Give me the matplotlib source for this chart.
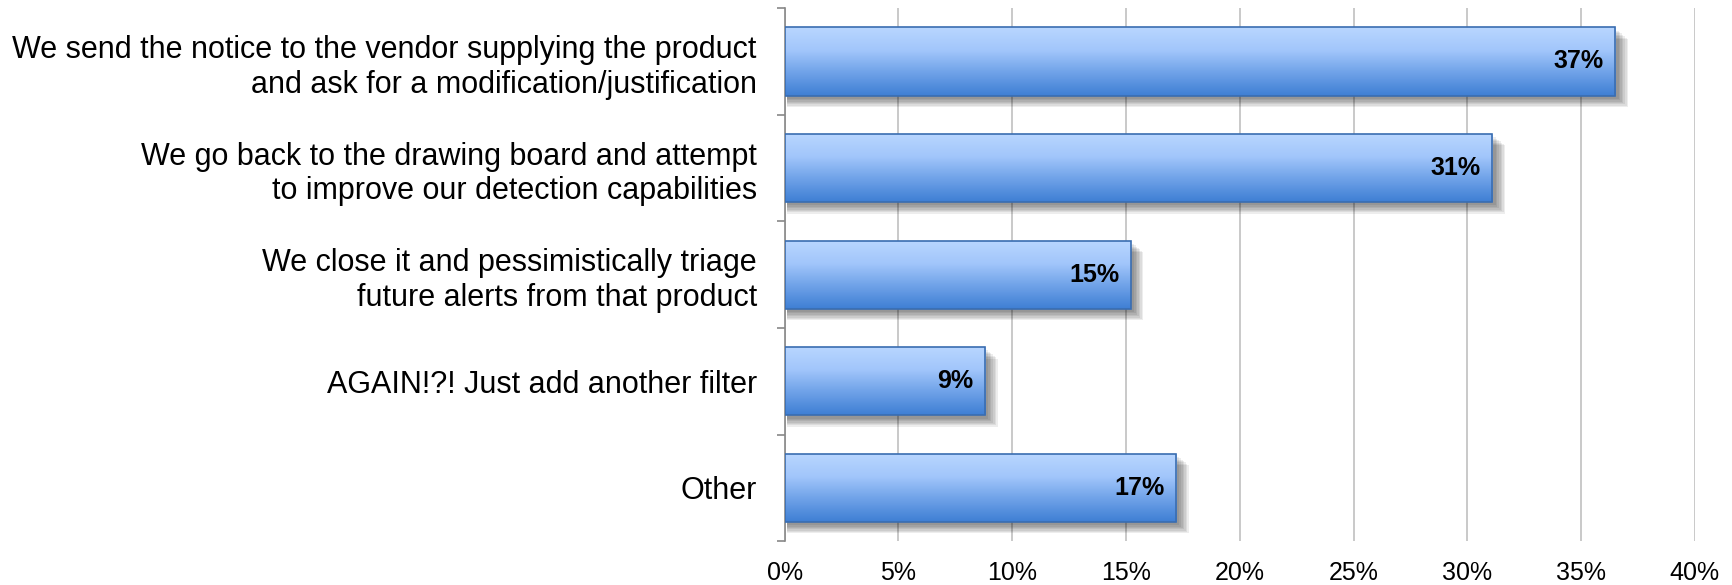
import numpy as np
import matplotlib.pyplot as plt
from matplotlib.colors import LinearSegmentedColormap
from matplotlib.patches import Rectangle

categories = ["We send the notice to the vendor supplying the product\nand ask for a modification/justification",
              "We go back to the drawing board and attempt\nto improve our detection capabilities",
              "We close it and pessimistically triage\nfuture alerts from that product",
              "AGAIN!?! Just add another filter",
              "Other"]
values = [36.5, 31.1, 15.2, 8.8, 17.2]
labels = ["37%", "31%", "15%", "9%", "17%"]
xticks = [0, 5, 10, 15, 20, 25, 30, 35, 40]

plt.rcParams['font.family'] = ['Liberation Sans', 'DejaVu Sans']

fig = plt.figure(figsize=(17.32, 5.85), dpi=100)
ax = fig.add_axes([0.453, 0.075, 0.5256, 0.911])

n = len(categories)
ypos = np.arange(n)[::-1]
h = 0.64
cmap = LinearSegmentedColormap.from_list("g", ["#3f7fd4", "#6fa2e8", "#a2c6fb", "#b8d6ff"])
grad = np.linspace(0, 1, 64).reshape(-1, 1)

ax.set_xlim(0, 40)
ax.set_ylim(-0.5, n - 0.5)

for y, v, lab in zip(ypos, values, labels):
    # soft shadow
    for k in range(7):
        off = 0.03 + k * 0.013
        ax.add_patch(Rectangle((0.1, y - h / 2 - off), v + 0.05 + k * 0.07, h,
                               facecolor="black", alpha=0.07, edgecolor="none", zorder=2))
    bar = ax.barh(y, v, height=h, color="none", edgecolor="#3a6db0", linewidth=1.2, zorder=4)[0]
    im = ax.imshow(grad, cmap=cmap, aspect="auto", origin="lower",
                   extent=[0, v, y - h / 2, y + h / 2], zorder=3)
    im.set_clip_path(bar)
    ax.text(v - 0.5, y, lab, ha="right", va="center", fontsize=18, fontweight="bold",
            color="black", zorder=5)

ax.set_xlim(0, 40)
ax.set_ylim(-0.5, n - 0.5)
ax.set_xticks(xticks)
ax.set_xticklabels([f"{t}%" for t in xticks], fontsize=18)
ax.set_yticks(ypos)
ax.set_yticklabels(categories, fontsize=22, linespacing=1.2)
ax.set_yticks(np.arange(-0.5, n, 1), minor=True)
ax.tick_params(axis="y", which="major", length=0, pad=20)
ax.tick_params(axis="y", which="minor", length=6, color="#888888", width=1.2)
ax.tick_params(axis="x", length=0, pad=14)
ax.grid(axis="x", color="#c0c0c0", linewidth=1.2, zorder=0)
ax.set_axisbelow(True)
for s in ["top", "right", "bottom"]:
    ax.spines[s].set_visible(False)
ax.spines["left"].set_color("#888888")
ax.spines["left"].set_linewidth(1.2)

fig.savefig("out.png", dpi=100)
